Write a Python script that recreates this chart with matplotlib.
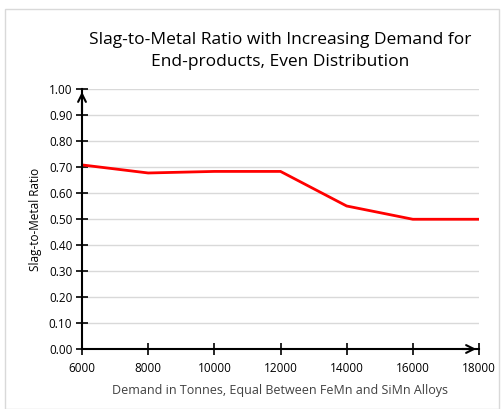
import matplotlib
matplotlib.use("Agg")
import matplotlib.pyplot as plt
from matplotlib.patches import Rectangle

# data
demand = [6000, 8000, 10000, 12000, 14000, 16000, 18000]
ratio = [0.708, 0.677, 0.683, 0.683, 0.550, 0.499, 0.499]
xticks = [6000, 8000, 10000, 12000, 14000, 16000, 18000]
yticks = [0.0, 0.1, 0.2, 0.3, 0.4, 0.5, 0.6, 0.7, 0.8, 0.9, 1.0]

plt.rcParams["font.family"] = ["Open Sans", "DejaVu Sans"]

fig = plt.figure(figsize=(5.03, 4.09), dpi=100)
fig.patches.append(Rectangle((5 / 503, 0), 494 / 503, 400 / 409, transform=fig.transFigure,
                             fill=False, edgecolor="#d9d9d9", linewidth=1))
ax = fig.add_axes([82 / 503, 1 - 349 / 409, 397 / 503, 260 / 409])

ax.plot(demand, ratio, color="#ff0000", linewidth=2, solid_joinstyle="miter")

ax.set_xlim(6000, 18000)
ax.set_ylim(0, 1.0)
ax.set_xticks(xticks)
ax.set_yticks(yticks)
ax.set_yticklabels([f"{v:.2f}" for v in yticks])
ax.tick_params(direction="inout", length=8, width=1.2, labelsize=8.5, colors="black")
ax.tick_params(axis="x", pad=5)
ax.tick_params(axis="y", pad=3)
ax.grid(axis="y", color="#d9d9d9", linewidth=1)
ax.set_axisbelow(True)
for s in ["top", "right"]:
    ax.spines[s].set_visible(False)
for s in ["left", "bottom"]:
    ax.spines[s].set_linewidth(1.5)

# arrow heads at axis ends
ax.annotate("", xy=(0, 1.0), xytext=(0, 0.9), xycoords="axes fraction",
            arrowprops=dict(arrowstyle="->", color="black", lw=1.5, mutation_scale=14))
ax.annotate("", xy=(1.0, 0), xytext=(0.95, 0), xycoords="axes fraction",
            arrowprops=dict(arrowstyle="->", color="black", lw=1.5, mutation_scale=14))

ax.set_xlabel("Demand in Tonnes, Equal Between FeMn and SiMn Alloys", fontsize=9, color="#404040", labelpad=7)
ax.set_ylabel("Slag-to-Metal Ratio", fontsize=8.5, color="black", labelpad=5)
fig.text(280 / 503, 1 - 51 / 409, "Slag-to-Metal Ratio with Increasing Demand for\nEnd-products, Even Distribution",
         ha="center", va="center", fontsize=12.5, color="black", linespacing=1.55)

fig.savefig("out.png", dpi=100)
